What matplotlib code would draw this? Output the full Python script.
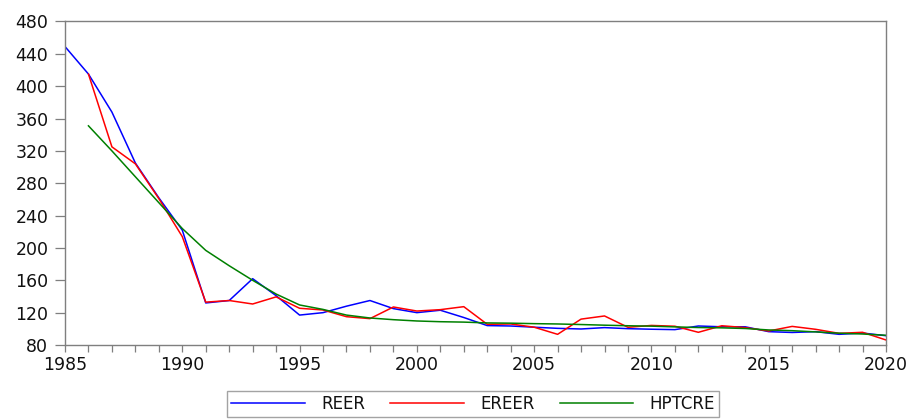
import matplotlib
matplotlib.use("Agg")
import matplotlib.pyplot as plt

years_reer = list(range(1985, 2021))
reer = [449, 415, 368, 305, 262, 222, 132, 135, 162, 141, 117, 120,
        128, 135, 125, 120, 123, 114, 104, 103.5, 102, 100.6, 99.8, 101.5,
        100.2, 99.5, 99, 103.5, 102.5, 102.5, 96.5, 95.5, 96.5, 93.2, 94.8, 91.5]

years_ereer = list(range(1986, 2021))
ereer = [415, 325, 304, 261, 214, 133, 135, 130.7, 139.5, 125.4, 123.3,
         115, 112.6, 127, 122, 123.7, 127.4, 105.6, 106, 102, 93.2, 112, 115.9,
         101.9, 104.2, 103.2, 95.7, 103.8, 101.5, 97.3, 103, 99.4, 94.4, 95.7, 86.2]

years_hp = list(range(1986, 2021))
hptcre = [351, 320, 288, 256, 224, 197, 178, 160, 143, 129.5, 124,
          117, 113.4, 111.3, 109.7, 108.8, 108.3, 107.3, 107, 106.4, 106, 105.3, 104.5,
          103.8, 103.3, 102.4, 101.6, 101.2, 100.4, 98.6, 97.7, 96.2, 94.6, 93.6, 92]

series_names = ["REER", "EREER", "HPTCRE"]
series_colors = ["#0000ff", "#ff0000", "#008000"]

yticks = list(range(80, 481, 40))
xticks_major = list(range(1985, 2021, 5))

plt.rcParams['font.family'] = ['DejaVu Sans']

fig = plt.figure(figsize=(9.12, 4.2), dpi=100)
ax = fig.add_axes([65/912, 1 - 345/420, (886 - 65)/912, (345 - 21.5)/420])

l1, = ax.plot(years_reer, reer, color=series_colors[0], lw=1.1, label=series_names[0])
l2, = ax.plot(years_ereer, ereer, color=series_colors[1], lw=1.1, label=series_names[1])
l3, = ax.plot(years_hp, hptcre, color=series_colors[2], lw=1.1, label=series_names[2])

ax.set_xlim(1985, 2020)
ax.set_ylim(80, 480)
ax.set_yticks(yticks)
ax.set_xticks(xticks_major)
ax.set_xticks(list(range(1985, 2021)), minor=True)

for s in ax.spines.values():
    s.set_color("#7f7f7f")
    s.set_linewidth(1.0)

ax.tick_params(axis='y', which='both', direction='out', length=7, width=0.9,
               color="#7f7f7f", labelsize=12.5, labelcolor="#111111", pad=5)
ax.tick_params(axis='x', which='both', direction='out', length=5, width=0.9,
               color="#7f7f7f", labelsize=12.5, labelcolor="#111111", pad=3)

leg = fig.legend(handles=[l1, l2, l3], loc='center', bbox_to_anchor=(0.519, 0.038),
                 ncol=3, fontsize=12, frameon=True, fancybox=False,
                 handlelength=4.4, handletextpad=1.0, columnspacing=1.5,
                 borderpad=0.25, borderaxespad=0)
leg.get_frame().set_edgecolor("#8c8c8c")
leg.get_frame().set_linewidth(1.0)
for t in leg.get_texts():
    t.set_color("#111111")

fig.savefig("out.png", dpi=100)
